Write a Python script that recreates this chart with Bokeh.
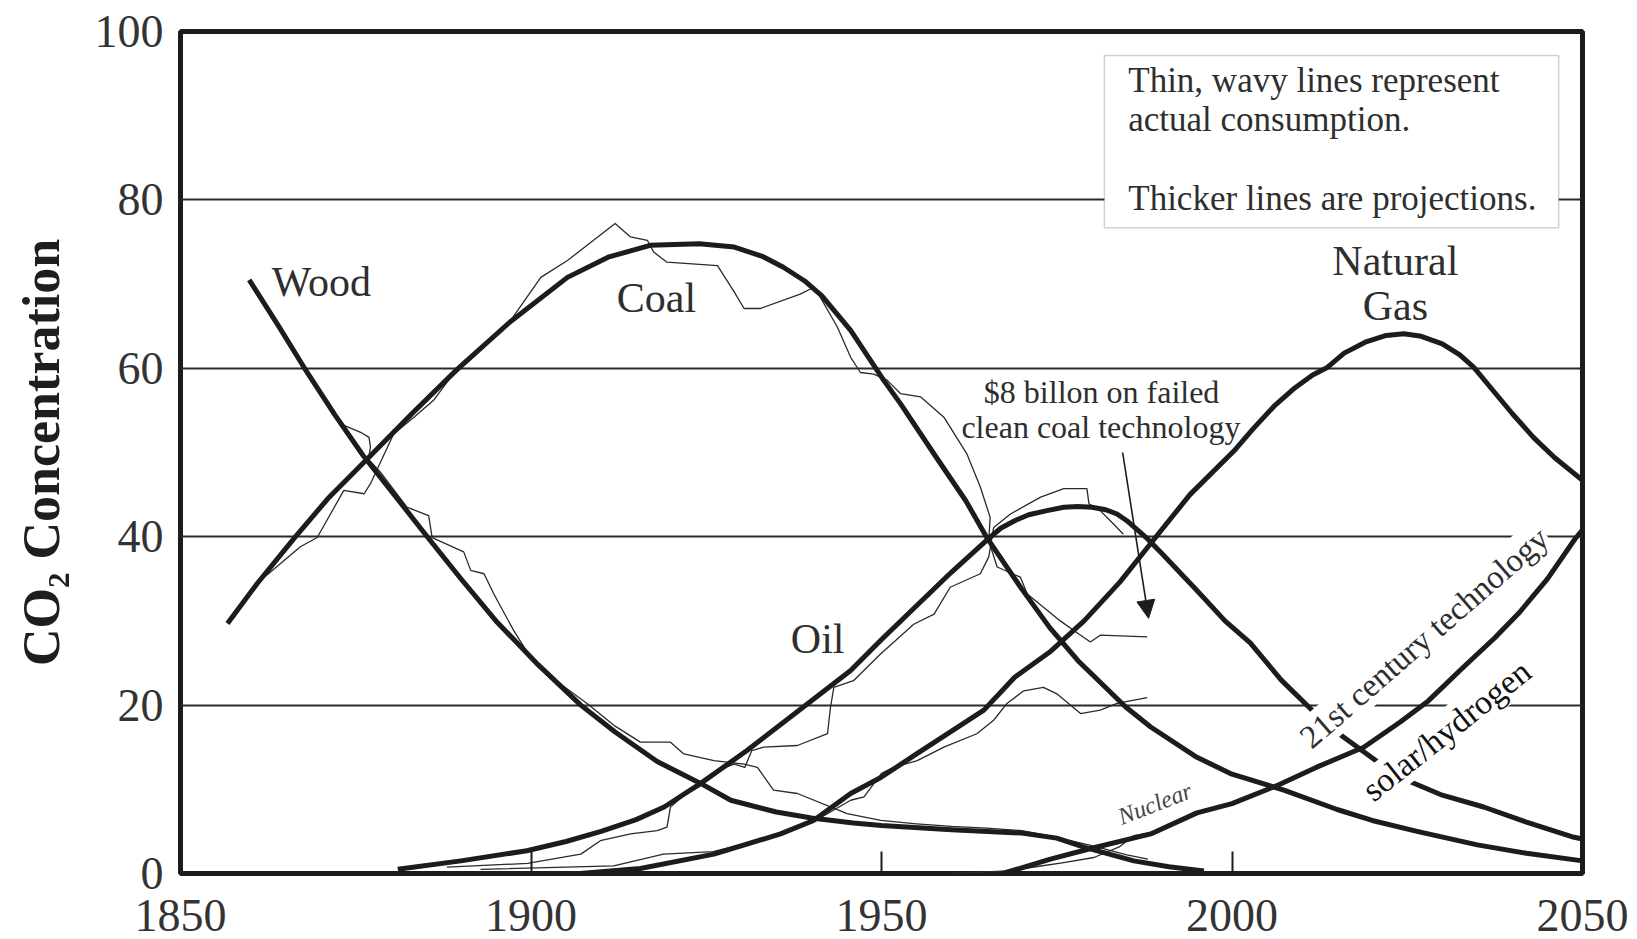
from bokeh.plotting import figure
from bokeh.models import Range1d, FixedTicker, BoxAnnotation, Arrow, NormalHead
from bokeh.core.properties import value
from bokeh.embed import file_html
from bokeh.resources import INLINE

# ---------------- data ----------------
x_ticks = [1850, 1900, 1950, 2000, 2050]
y_ticks = [0, 20, 40, 60, 80, 100]
grid_levels = [20, 40, 60, 80]

# projections (thick lines)
wood_proj_year = [1859.8, 1864, 1867.7, 1872, 1876, 1880, 1885.2, 1890, 1895, 1901, 1907.1, 1912, 1918,
                  1924.2, 1928.5, 1935, 1940, 1946, 1950, 1960, 1970, 1975, 1979, 1986, 1991, 1996]
wood_proj_val = [70.5, 65, 60, 54.5, 49.7, 45.5, 40, 35, 30, 24.8, 20, 16.8, 13.3,
                 10.7, 8.7, 7.3, 6.6, 6.0, 5.7, 5.2, 4.8, 4.2, 3.1, 1.5, 0.8, 0.3]

coal_proj_year = [1856.7, 1861, 1866.2, 1871, 1876.6, 1883, 1889.5, 1897, 1905.2, 1911, 1917, 1924, 1929,
                  1933, 1936, 1939, 1941.5, 1945.6, 1950.3, 1952.7, 1958, 1962, 1965.1, 1970, 1974, 1978,
                  1984.8, 1988.4, 1995, 2000, 2007.4, 2015, 2020, 2026.4, 2035, 2042, 2050]
coal_proj_val = [29.7, 34.5, 39.8, 44.5, 49.2, 54.6, 59.9, 65.5, 70.8, 73.2, 74.6, 74.8, 74.4,
                 73.3, 72.0, 70.4, 68.6, 64.5, 58.6, 55.8, 49.2, 44.3, 39.8, 33.8, 29.2, 25.3,
                 19.8, 17.4, 13.8, 11.8, 9.9, 7.6, 6.3, 5.0, 3.4, 2.4, 1.5]

oil_proj_year = [1881, 1890, 1899.4, 1905, 1910, 1915, 1919, 1924.2, 1930.8, 1938.9, 1945.6, 1949.9, 1955,
                 1960, 1965.3, 1967, 1969, 1971, 1973.6, 1976, 1978, 1980, 1982, 1983.6, 1985, 1986.5,
                 1988, 1990, 1992.5, 1995, 1999, 2002.6, 2007, 2011.9, 2015.9, 2021.2, 2025.7, 2030,
                 2035.9, 2042, 2048.8, 2050]
oil_proj_val = [0.5, 1.5, 2.7, 3.8, 5.0, 6.4, 7.9, 10.7, 14.6, 19.8, 24.1, 27.7, 31.8,
                35.8, 39.8, 41.0, 41.9, 42.6, 43.1, 43.5, 43.6, 43.5, 43.2, 42.7, 41.9, 40.8,
                39.7, 38.0, 35.8, 33.6, 30.0, 27.4, 23.0, 19.0, 16.2, 13.0, 10.8, 9.3,
                7.9, 6.1, 4.3, 4.1]

gas_proj_year = [1907, 1915.6, 1926.1, 1935.6, 1940.3, 1945.6, 1949.9, 1955, 1960, 1964.6, 1969, 1974,
                 1978.9, 1984, 1988.4, 1994, 2000.3, 2003, 2006, 2009, 2011.5, 2013.6, 2016, 2019,
                 2022, 2024.5, 2027, 2030, 2032.5, 2034.5, 2037, 2040, 2043, 2046, 2050]
gas_proj_val = [0, 0.6, 2.3, 4.7, 6.3, 9.5, 11.4, 14.2, 16.9, 19.4, 23.3, 26.3,
                30.0, 34.6, 39.2, 45.0, 50.2, 52.8, 55.5, 57.7, 59.2, 60.1, 61.8, 63.1,
                63.9, 64.1, 63.8, 62.9, 61.6, 60.1, 57.6, 54.6, 51.8, 49.4, 46.7]

tech21_proj_year = [1967.3, 1974.1, 1980, 1988.4, 1995, 2000, 2006.3, 2012, 2018.8, 2024, 2028, 2033,
                    2037.5, 2041, 2045, 2048.9, 2050]
tech21_proj_val = [0, 1.7, 3.0, 4.7, 7.2, 8.3, 10.4, 12.6, 15.0, 18.0, 20.5, 24.5,
                   28.0, 31.0, 35.0, 39.7, 40.8]

# actual consumption (thin wavy lines)
wood_act_year = [1872.8, 1875.7, 1876.9, 1877.1, 1876.8, 1878.5, 1882.3, 1885.4, 1885.9, 1890.4, 1891.4,
                 1893.3, 1894.7, 1897.5, 1899.9, 1904.2, 1908, 1912, 1915.6, 1919.9, 1921.8, 1926.1,
                 1930.4, 1932.3, 1934.6, 1938, 1945.1, 1949.9, 1955, 1960, 1965, 1970, 1975, 1980,
                 1985, 1988]
wood_act_val = [53.4, 52.4, 51.8, 50.6, 49.2, 47.7, 43.5, 42.5, 39.9, 38.2, 36.0,
                35.6, 33.2, 28.9, 25.7, 22.5, 20.2, 17.5, 15.6, 15.6, 14.2, 13.4,
                13.0, 12.6, 9.9, 9.5, 7.1, 6.3, 5.9, 5.6, 5.4, 5.1, 4.3, 3.3,
                2.2, 1.7]

coal_act_year = [1857.6, 1861.4, 1867.1, 1869.5, 1873.3, 1876.2, 1877.1, 1880.4, 1883.3, 1886.1, 1888.5,
                 1892, 1897.1, 1901.4, 1905.2, 1912, 1914.2, 1916.6, 1917.5, 1919.4, 1926.6, 1928.9,
                 1930.4, 1932.7, 1938.4, 1940.3, 1941.3, 1943.7, 1945.6, 1947, 1948.9, 1950.8, 1952.7,
                 1955.6, 1958.9, 1962.2, 1964.1, 1965.5, 1965.3, 1966.5, 1969.8, 1970.8, 1975.5, 1978.4,
                 1979.8, 1981.2, 1987.9]
coal_act_val = [30.4, 34.8, 38.8, 39.9, 45.5, 45.1, 46.3, 52.2, 54.2, 56.2, 58.9,
                61.5, 65.7, 70.8, 72.8, 77.2, 75.6, 75.2, 73.8, 72.6, 72.2, 69.2,
                67.1, 67.1, 68.8, 69.6, 68.4, 64.9, 61.3, 59.5, 59.3, 58.6, 57.0,
                56.6, 54.2, 49.8, 45.9, 42.3, 39.5, 36.4, 35.2, 33.2, 30.0, 28.3,
                27.5, 28.3, 28.1]

oil_act_year = [1888, 1899.5, 1907.1, 1909.9, 1914.2, 1918, 1919.4, 1919.9, 1922, 1924, 1927, 1929,
                1930.5, 1931.5, 1933.2, 1938, 1942.3, 1942.7, 1943.2, 1946, 1949.9, 1954.6, 1957.5,
                1959.8, 1964.1, 1965.3, 1966, 1968.4, 1972.7, 1976, 1979.3, 1979.6, 1981.2, 1983.1,
                1984.5]
oil_act_val = [0.75, 1.2, 2.3, 3.9, 4.7, 5.1, 5.5, 7.9, 9.4, 10.3, 12.4, 13.0,
               12.6, 14.6, 15.0, 15.2, 16.6, 19.6, 22.1, 22.9, 26.1, 29.6, 30.8,
               34.0, 35.6, 37.6, 41.1, 42.7, 44.7, 45.7, 45.7, 43.9, 43.1, 41.5,
               40.3]

gas_act_year = [1892.8, 1911.8, 1918.9, 1926, 1935, 1940, 1945.6, 1947.5, 1950, 1951.7, 1955.1, 1958.9,
                1963.6, 1966, 1967.9, 1970.3, 1973.1, 1975.1, 1978.4, 1981.2, 1983.6, 1987.9]
gas_act_val = [0.5, 0.9, 2.3, 2.6, 4.5, 6.0, 8.7, 9.1, 11.9, 12.6, 13.4, 15.0,
               16.6, 18.2, 20.2, 21.7, 22.1, 21.3, 19.0, 19.4, 20.2, 20.9]

nuclear_act_year = [1960, 1968, 1972, 1976, 1980.3, 1984, 1986, 1988]
nuclear_act_val = [0, 0.3, 0.8, 1.3, 1.9, 3.2, 4.5, 4.8]

# text labels
series_labels = ["Wood", "Coal", "Oil", "Natural", "Gas"]
note_lines = ["Thin, wavy lines represent", "actual consumption.", "Thicker lines are projections."]
annotation_text = ["$8 billon on failed", "clean coal technology"]

# ---------------- figure ----------------
FONT = "Liberation Serif"
INK = "#1c1c1c"
TXT = "#2e2e2e"

p = figure(width=1637, height=939, x_range=Range1d(1850, 2050), y_range=Range1d(0, 100),
           output_backend="svg", toolbar_location=None,
           min_border_left=180, min_border_right=55, min_border_top=31, min_border_bottom=66)
p.background_fill_color = "white"
p.border_fill_color = "white"
p.outline_line_color = INK
p.outline_line_width = 5
p.outline_line_alpha = 1

p.xgrid.visible = False
p.ygrid.ticker = FixedTicker(ticks=grid_levels)
p.ygrid.grid_line_color = "#2a2a2a"
p.ygrid.grid_line_width = 2
p.ygrid.grid_line_alpha = 1

p.xaxis.ticker = FixedTicker(ticks=x_ticks)
p.xaxis.major_tick_in = 22
p.xaxis.major_tick_out = 0
p.xaxis.major_tick_line_width = 2
p.xaxis.major_tick_line_color = INK
p.xaxis.minor_tick_line_color = None
p.xaxis.axis_line_color = None
p.xaxis.major_label_text_font = FONT
p.xaxis.major_label_text_font_size = "46px"
p.xaxis.major_label_text_color = "#333333"
p.xaxis.major_label_standoff = 26

p.yaxis.ticker = FixedTicker(ticks=y_ticks)
p.yaxis.major_tick_in = 0
p.yaxis.major_tick_out = 0
p.yaxis.minor_tick_line_color = None
p.yaxis.axis_line_color = None
p.yaxis.major_label_text_font = FONT
p.yaxis.major_label_text_font_size = "46px"
p.yaxis.major_label_text_color = "#333333"
p.yaxis.major_label_standoff = 17
p.yaxis.axis_label = "CO\u2082 Concentration"
p.yaxis.axis_label_text_font = FONT
p.yaxis.axis_label_text_font_style = "bold"
p.yaxis.axis_label_text_font_size = "52px"
p.yaxis.axis_label_text_color = "#1e1e1e"
p.yaxis.axis_label_standoff = 22

# note box
box = BoxAnnotation(left=1981.8, right=2046.6, bottom=76.7, top=97.15,
                    fill_color="white", fill_alpha=1.0, line_color="#666666",
                    line_width=1.5, level="underlay")
p.add_layout(box)

# thin actual lines
for xs, ys in [(wood_act_year, wood_act_val), (coal_act_year, coal_act_val),
               (oil_act_year, oil_act_val), (gas_act_year, gas_act_val),
               (nuclear_act_year, nuclear_act_val)]:
    p.line(xs, ys, line_color="#2a2a2a", line_width=1.3, line_join="round")

# oil projection first, so labels on it can mask it
p.line(oil_proj_year, oil_proj_val, line_color=INK, line_width=5, line_join="round")

# rotated labels with white background (interrupt oil line as in original)
p.text(x=[2027.4], y=[28.0], text=["21st century technology"], angle=0.716,
       text_font=value(FONT), text_font_size="33px", text_color=TXT,
       text_align="center", text_baseline="middle",
       background_fill_color="white", padding=1)
p.text(x=[2030.6], y=[17.0], text=["solar/hydrogen"], angle=0.670,
       text_font=value(FONT), text_font_size="34px",
       text_color="#111111", text_align="center", text_baseline="middle",
       background_fill_color="white", padding=1)

# other thick projection lines
for xs, ys in [(wood_proj_year, wood_proj_val), (coal_proj_year, coal_proj_val),
               (gas_proj_year, gas_proj_val), (tech21_proj_year, tech21_proj_val)]:
    p.line(xs, ys, line_color=INK, line_width=5, line_join="round")

p.text(x=[1989.0], y=[8.3], text=["Nuclear"], angle=0.37,
       text_font=value(FONT), text_font_size="24px", text_font_style="italic",
       text_color="#444444", text_align="center", text_baseline="middle")

# series labels
p.text(x=[1870.1, 1917.9, 1940.9, 2023.3, 2023.3], y=[70.2, 68.3, 27.9, 72.8, 67.4],
       text=series_labels, text_font=value(FONT), text_font_size="42px",
       text_color=TXT, text_align="center", text_baseline="middle")

# note text
p.text(x=[1985.2, 1985.2, 1985.2], y=[94.2, 89.5, 80.2], text=note_lines,
       text_font=value(FONT), text_font_size="35px", text_color=TXT,
       text_align="left", text_baseline="middle")

# clean coal annotation
p.text(x=[1981.4, 1981.3], y=[57.2, 53.0], text=annotation_text,
       text_font=value(FONT), text_font_size="32px", text_color=TXT,
       text_align="center", text_baseline="middle")
p.add_layout(Arrow(end=NormalHead(size=18, fill_color=INK, line_color=INK),
                   x_start=1984.4, y_start=50.0, x_end=1988.1, y_end=30.3,
                   line_color=INK, line_width=1.6))

open("out.html", "w").write(file_html(p, INLINE))
